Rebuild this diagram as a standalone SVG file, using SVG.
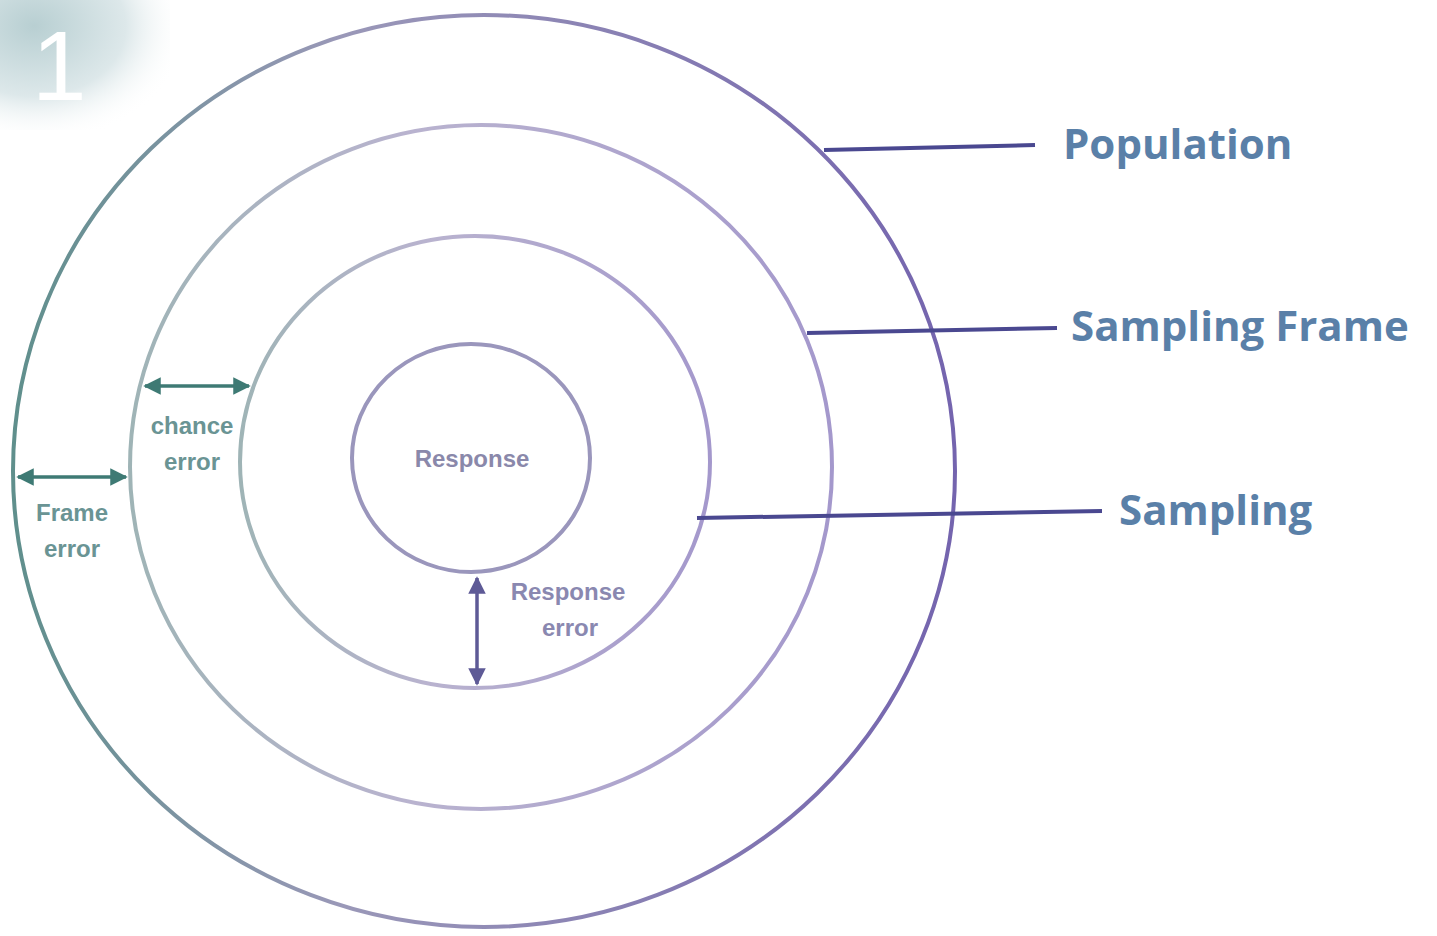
<svg xmlns="http://www.w3.org/2000/svg" width="1437" height="936" viewBox="0 0 1437 936">
<defs>
<linearGradient id="ring" x1="0" y1="0" x2="1" y2="0">
<stop offset="0" stop-color="#5f8f8c"/>
<stop offset="0.35" stop-color="#9a98b8"/>
<stop offset="1" stop-color="#7464ae"/>
</linearGradient>
<linearGradient id="ringLight" x1="0" y1="0" x2="1" y2="0">
<stop offset="0" stop-color="#9fb4b6"/>
<stop offset="0.4" stop-color="#b9b3cf"/>
<stop offset="1" stop-color="#a498cc"/>
</linearGradient>
<radialGradient id="corner" cx="0.2" cy="0.2" r="0.9">
<stop offset="0" stop-color="#b8cfd2"/>
<stop offset="0.6" stop-color="#dde8ea"/>
<stop offset="1" stop-color="#ffffff" stop-opacity="0"/>
</radialGradient>
<marker id="ah" viewBox="0 0 10 10" refX="9" refY="5" markerWidth="5" markerHeight="5" orient="auto-start-reverse">
<path d="M0,0 L10,5 L0,10 z" fill="context-stroke"/>
</marker>
<style>
.circle{fill:none;stroke-width:4}
.leader{stroke:#4a4890;stroke-width:4;fill:none}
.label{font-family:"Open Sans","Liberation Sans",sans-serif;font-weight:700;fill:#5a80a8;font-size:42px}
.small{font-family:"Liberation Sans",sans-serif;font-weight:700;font-size:24px;text-anchor:middle}
.teal{fill:#6a9494}
.purp{fill:#8a88b0}
.arrT{stroke:#3e7a74;stroke-width:3.5;fill:none}
.arrP{stroke:#5e5a96;stroke-width:3.5;fill:none}
</style>
</defs>
<rect width="1437" height="936" fill="#ffffff"/>
<g id="corner-number">
<rect x="0" y="0" width="170" height="130" fill="url(#corner)"/>
<text x="32" y="100" font-family="Liberation Sans,sans-serif" font-size="98" fill="#ffffff">1</text>
</g>
<g id="population">
<ellipse class="circle" cx="484" cy="471" rx="471" ry="456" stroke="url(#ring)"/>
</g>
<g id="sampling-frame">
<ellipse class="circle" cx="481" cy="467" rx="351" ry="342" stroke="url(#ringLight)"/>
</g>
<g id="sampling">
<ellipse class="circle" cx="475" cy="462" rx="235" ry="226" stroke="url(#ringLight)"/>
</g>
<g id="response">
<ellipse class="circle" cx="471" cy="458" rx="119" ry="114" stroke="#9a96bc"/>
<text class="small" x="472" y="467" fill="#8a88aa">Response</text>
</g>
<g id="connectors">
<line class="leader" x1="824" y1="150" x2="1035" y2="145"/>
<line class="leader" x1="807" y1="333" x2="1057" y2="328"/>
<line class="leader" x1="697" y1="518" x2="1102" y2="511"/>
<line class="arrT" x1="18" y1="477" x2="126" y2="477" marker-start="url(#ah)" marker-end="url(#ah)"/>
<line class="arrT" x1="145" y1="386" x2="249" y2="386" marker-start="url(#ah)" marker-end="url(#ah)"/>
<line class="arrP" x1="477" y1="578" x2="477" y2="684" marker-start="url(#ah)" marker-end="url(#ah)"/>
</g>
<g id="labels">
<text class="label" x="1063" y="159">Population</text>
<text class="label" x="1071" y="341">Sampling Frame</text>
<text class="label" x="1119" y="525">Sampling</text>
<text class="small teal" x="72" y="521">Frame</text>
<text class="small teal" x="72" y="557">error</text>
<text class="small teal" x="192" y="434">chance</text>
<text class="small teal" x="192" y="470">error</text>
<text class="small purp" x="568" y="600">Response</text>
<text class="small purp" x="570" y="636">error</text>
</g>
</svg>
